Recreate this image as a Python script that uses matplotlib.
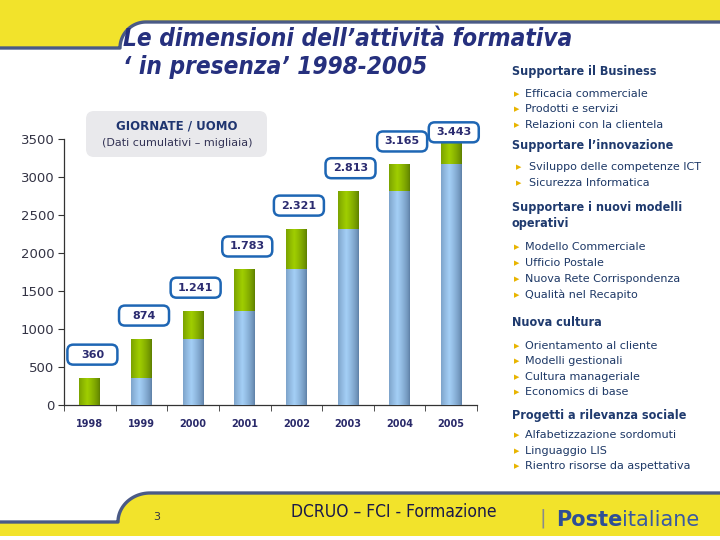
import numpy as np
import matplotlib.pyplot as plt
from matplotlib.patches import FancyBboxPatch, Polygon
from matplotlib.colors import to_rgb
from matplotlib import font_manager

# === Dati (giornate/uomo cumulative, migliaia) ===
years = ['1998', '1999', '2000', '2001', '2002', '2003', '2004', '2005']
base = [0, 360, 874, 1241, 1783, 2321, 2813, 3165]        # cumulato fino all'anno precedente
totals = [360, 874, 1241, 1783, 2321, 2813, 3165, 3443]    # cumulato a fine anno
value_labels = ['360', '874', '1.241', '1.783', '2.321', '2.813', '3.165', '3.443']
yticks = [0, 500, 1000, 1500, 2000, 2500, 3000, 3500]

# pannello di destra: (tipo, testo)
panel = [
    ('h', 'Supportare il Business'),
    ('b', 'Efficacia commerciale'),
    ('b', 'Prodotti e servizi'),
    ('b', 'Relazioni con la clientela'),
    ('h', 'Supportare l\u2019innovazione'),
    ('b2', 'Sviluppo delle competenze ICT'),
    ('b2', 'Sicurezza Informatica'),
    ('h', 'Supportare i nuovi modelli'),
    ('h', 'operativi'),
    ('b', 'Modello Commerciale'),
    ('b', 'Ufficio Postale'),
    ('b', 'Nuova Rete Corrispondenza'),
    ('b', 'Qualit\u00e0 nel Recapito'),
    ('h', 'Nuova cultura'),
    ('b', 'Orientamento al cliente'),
    ('b', 'Modelli gestionali'),
    ('b', 'Cultura manageriale'),
    ('b', 'Economics di base'),
    ('h', 'Progetti a rilevanza sociale'),
    ('b', 'Alfabetizzazione sordomuti'),
    ('b', 'Linguaggio LIS'),
    ('b', 'Rientro risorse da aspettativa'),
]
panel_y = [71, 94, 109, 125, 145, 167, 183, 208, 224, 247, 263, 279, 295,
           322, 346, 361, 377, 392, 416, 435, 451, 466]

# === Colori ===
NAVY = '#26307e'
HEAD = '#1f3a6e'
YELLOW = '#f2e32b'
RULE = '#4a5a86'
BLUE_D, BLUE_L = '#5c7ea4', '#a4cff6'
GREEN_D, GREEN_L = '#5b7c00', '#a0ce00'

# font stretto, se disponibile
names = {f.name for f in font_manager.fontManager.ttflist}
NARROW = 'Liberation Sans Narrow' if 'Liberation Sans Narrow' in names else 'DejaVu Sans'

W, H = 720, 540
fig = plt.figure(figsize=(7.2, 5.4), dpi=100)

# --- sfondo in coordinate pixel ---
bg = fig.add_axes([0, 0, 1, 1])
bg.set_xlim(0, W)
bg.set_ylim(H, 0)
bg.axis('off')

# fascia gialla in alto con angolo arrotondato
th = np.linspace(0, np.pi / 2, 30)
cx, cy, r = 146, 48, 26
curve_top = np.column_stack([cx - r * np.cos(th), cy - r * np.sin(th)])
edge_top = np.vstack([[0, 48], curve_top, [W, 22]])
bg.add_patch(Polygon(np.vstack([[[0, 0]], edge_top, [[W, 0]]]), closed=True,
                     facecolor=YELLOW, edgecolor='none'))
bg.plot(edge_top[:, 0], edge_top[:, 1], color=RULE, lw=2.4, solid_capstyle='butt')

# fascia gialla in basso
cx, cy, rx, ry = 150, 522, 32, 29
curve_bot = np.column_stack([cx - rx * np.cos(th), cy - ry * np.sin(th)])
edge_bot = np.vstack([[0, 522], curve_bot, [W, 493]])
bg.add_patch(Polygon(np.vstack([edge_bot, [[W, 536], [0, 536]]]), closed=True,
                     facecolor=YELLOW, edgecolor='none'))
bg.plot(edge_bot[:, 0], edge_bot[:, 1], color=RULE, lw=2.4, solid_capstyle='butt')

# titolo
title_kw = dict(family=NARROW, fontstretch='condensed', fontweight='bold',
                style='italic', color=NAVY, va='center')
bg.text(123, 39, 'Le dimensioni dell\u2019attivit\u00e0 formativa', fontsize=17.5, **title_kw)
bg.text(123, 67, '\u2018 in presenza\u2019 1998-2005', fontsize=17.5, **title_kw)

# riquadro grigio della legenda
bg.add_patch(FancyBboxPatch((86, 111), 181, 46, boxstyle='round,pad=0,rounding_size=8',
                            facecolor='#e9e9ec', edgecolor='none'))
bg.text(177, 126, 'GIORNATE / UOMO', ha='center', va='center', fontsize=8.5,
        fontweight='bold', color='#1f3570')
bg.text(177, 143, '(Dati cumulativi \u2013 migliaia)', ha='center', va='center',
        fontsize=8, color='#333355')

# pannello di destra
for (kind, txt), y in zip(panel, panel_y):
    if kind == 'h':
        bg.text(512, y, txt, family=NARROW, fontstretch='condensed', fontsize=9,
                fontweight='bold', color=HEAD, va='center')
    else:
        bx = 517 if kind == 'b' else 519
        tx = 525 if kind == 'b' else 529
        bg.text(bx, y, '\u25b6', fontsize=5, color='#e8b400', ha='center', va='center')
        bg.text(tx, y, txt, fontsize=8, color='#1d3866', va='center')

# piè di pagina
bg.text(157, 517, '3', fontsize=8, color='#333344', ha='center', va='center')
bg.text(394, 512, 'DCRUO \u2013 FCI - Formazione', family=NARROW, fontstretch='condensed',
        fontsize=12.5, color='#1a1a4a', ha='center', va='center')
bg.text(543, 518, '|', fontsize=14, color='#8a8a8a', ha='center', va='center')
t1 = bg.text(556, 526, 'Poste', fontsize=15, fontweight='bold', color='#2f4f95',
             va='baseline')
bg.annotate('italiane', xy=(1, 0), xycoords=t1, fontsize=15, color='#3a5aa0',
            va='bottom')

# --- grafico ---
ax = fig.add_axes([64 / W, (H - 405) / H, (477 - 64) / W, (405 - 139) / H])
ax.set_facecolor('none')
x = np.arange(len(years))
bw = 0.4
blue_bars = ax.bar(x, base, width=bw, color=BLUE_L, zorder=2)
green_bars = ax.bar(x, np.array(totals) - np.array(base), bottom=base, width=bw,
                    color=GREEN_L, zorder=2)


def shade(bars, dark, light):
    t = np.linspace(0, 1, 60)
    prof = np.clip(1 - np.abs(t - 0.4) / 0.6, 0, 1) ** 0.7
    d, l = np.array(to_rgb(dark)), np.array(to_rgb(light))
    img = (d + (l - d) * prof[:, None])[None, :, :]
    for b in bars:
        if b.get_height() <= 0:
            continue
        x0, y0 = b.get_xy()
        im = ax.imshow(img, extent=[x0, x0 + b.get_width(), y0, y0 + b.get_height()],
                       aspect='auto', interpolation='bilinear', zorder=3)
        im.set_clip_path(b)


shade(blue_bars, BLUE_D, BLUE_L)
shade(green_bars, GREEN_D, GREEN_L)

ax.set_xlim(-0.5, len(years) - 0.5)
ax.set_ylim(0, 3500)
ax.set_aspect('auto')

# etichette dei totali in riquadri arrotondati
ypp = 3500 / 266          # unità dati per pixel (verticale)
xpp = len(years) / 413    # unità dati per pixel (orizzontale)
label_dy = [23, 23, 23, 23, 23, 23, 23, 11]
for xi, tot, lab, dy in zip(x, totals, value_labels, label_dy):
    xc, yc = xi + 0.05, tot + dy * ypp
    ax.add_patch(FancyBboxPatch((xc - 25 * xpp, yc - 10 * ypp), 50 * xpp, 20 * ypp,
                                boxstyle='round,pad=0,rounding_size=%f' % (6 * xpp),
                                mutation_aspect=ypp / xpp, facecolor='white',
                                edgecolor='#1e66b4', lw=1.8, clip_on=False, zorder=5))
    ax.text(xc, yc, lab, ha='center', va='center', fontsize=8, fontweight='bold',
            color='#2b2b70', zorder=6, clip_on=False)

ax.set_yticks(yticks)
ax.set_yticklabels([str(v) for v in yticks], fontsize=9.5, color='#333344')
ax.set_xticks(x)
ax.set_xticklabels(years, fontsize=7, fontweight='bold', color='#2a2a6a')
ax.set_xticks(np.arange(len(years) + 1) - 0.5, minor=True)
ax.tick_params(axis='x', which='major', length=0, pad=10)
ax.tick_params(axis='x', which='minor', length=4, direction='out', color='#333333')
ax.tick_params(axis='y', length=4, direction='out', color='#333333', pad=3)
for s in ['top', 'right']:
    ax.spines[s].set_visible(False)
for s in ['left', 'bottom']:
    ax.spines[s].set_color('#333333')
    ax.spines[s].set_linewidth(0.9)

fig.savefig('out.png', dpi=100)
